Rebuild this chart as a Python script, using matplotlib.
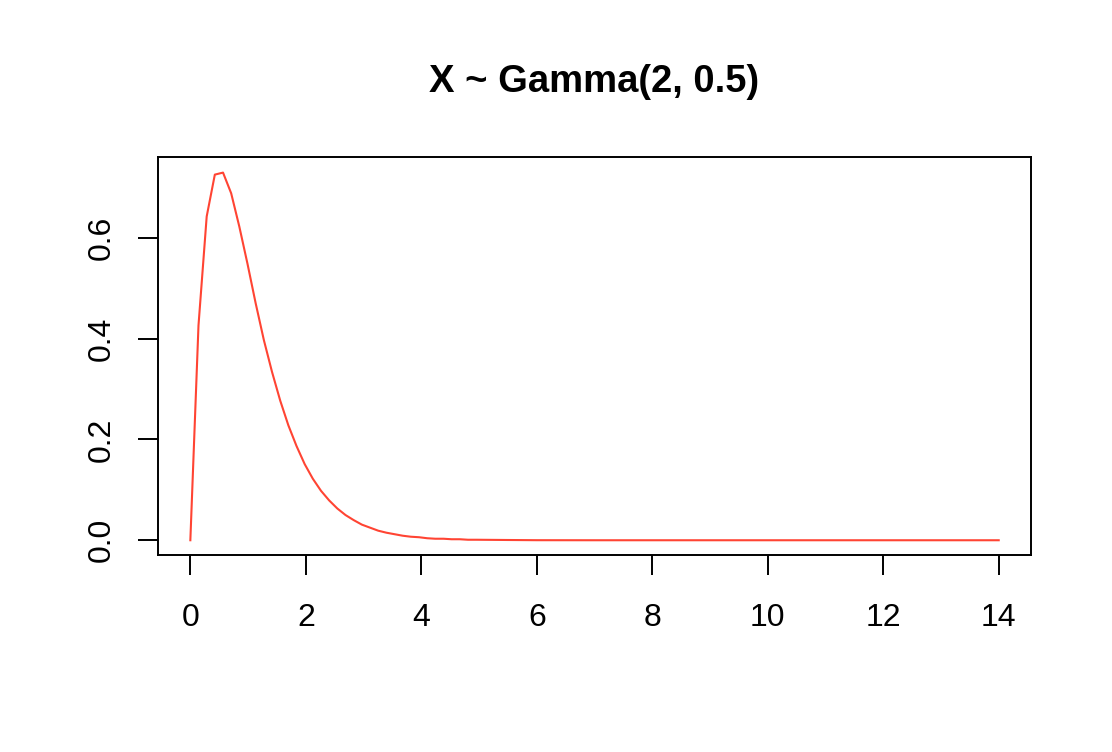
import matplotlib
matplotlib.use("Agg")
import matplotlib.pyplot as plt

plt.rcParams['font.family'] = ['Liberation Sans', 'DejaVu Sans']

# Density curve (x, y)
x_vals = [0.000, 0.141, 0.283, 0.424, 0.566, 0.707, 0.848, 0.990, 1.131, 1.273,
          1.414, 1.556, 1.697, 1.838, 1.980, 2.121, 2.263, 2.404, 2.545, 2.687,
          2.828, 2.970, 3.111, 3.253, 3.394, 3.535, 3.677, 3.818, 3.960, 4.101,
          4.242, 4.384, 4.525, 4.667, 4.808, 4.949, 5.5, 6.0, 7.0, 8.0,
          9.0, 10.0, 11.0, 12.0, 13.0, 14.0]
y_vals = [0.000, 0.426, 0.642, 0.725, 0.729, 0.688, 0.622, 0.548, 0.470, 0.397,
          0.334, 0.277, 0.228, 0.187, 0.151, 0.122, 0.098, 0.079, 0.063, 0.050,
          0.040, 0.031, 0.025, 0.019, 0.015, 0.012, 0.009, 0.007, 0.006, 0.004,
          0.003, 0.003, 0.002, 0.002, 0.001, 0.001, 0.0005, 0.0001, 0.0, 0.0,
          0.0, 0.0, 0.0, 0.0, 0.0, 0.0]

x_ticks = [0, 2, 4, 6, 8, 10, 12, 14]
y_ticks = [0.0, 0.2, 0.4, 0.6]
y_labels = ["0.0", "0.2", "0.4", "0.6"]
title = "X ~ Gamma(2, 0.5)"

fig = plt.figure(figsize=(11.12, 7.52), dpi=100)
ax = fig.add_axes([0.1421, 0.2620, 0.7851, 0.5292])

ax.plot(x_vals, y_vals, color='#FF4433', lw=1.5)

ax.set_xlim(-0.56, 14.56)
ax.set_ylim(-0.0292, 0.7599)
ax.set_xticks(x_ticks)
ax.set_yticks(y_ticks)
ax.set_yticklabels(y_labels, rotation=90, va='center')

for s in ax.spines.values():
    s.set_linewidth(1.4)
ax.tick_params(axis='both', length=14.4, width=1.4, labelsize=23)
ax.tick_params(axis='x', pad=20)
ax.tick_params(axis='y', pad=15)

ax.set_title(title, fontsize=27.5, fontweight='bold', pad=47)

fig.savefig("out.png", dpi=100)
